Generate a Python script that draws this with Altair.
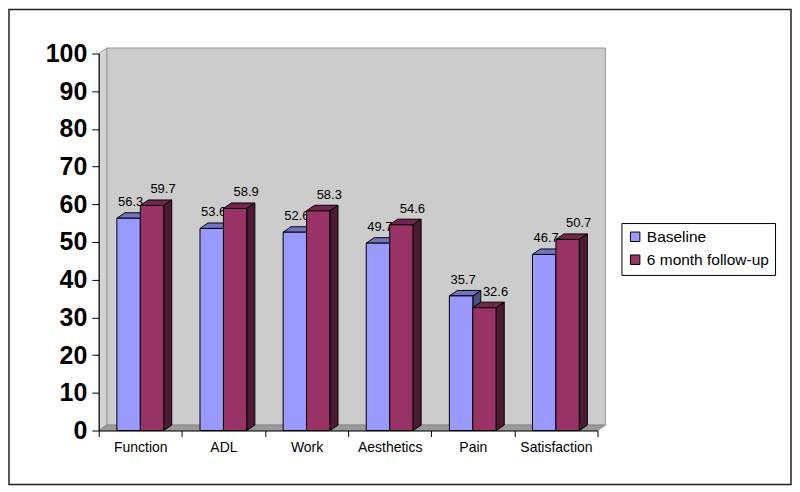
import altair as alt
import pandas as pd

categories = ["Function", "ADL", "Work", "Aesthetics", "Pain", "Satisfaction"]
series_names = ["Baseline", "6 month follow-up"]
baseline = [56.3, 53.6, 52.6, 49.7, 35.7, 46.7]
followup = [59.7, 58.9, 58.3, 54.6, 32.6, 50.7]
y_ticks = [0, 10, 20, 30, 40, 50, 60, 70, 80, 90, 100]

front_colors = ["#9999FF", "#993366"]
top_colors = ["#7373BF", "#73264D"]
side_colors = ["#4D4D80", "#4D1A33"]

W, H = 500, 378
BAR_W = 0.282   # bar width in category units
DX = 0.096      # 3-D depth, x (category units)
DY = 1.45       # 3-D depth, y (value units)
N = len(categories)

xs = alt.Scale(domain=[0, N], nice=False, zero=False)
ys = alt.Scale(domain=[0, 100], nice=False, zero=True)

x_axis = alt.Axis(values=list(range(N + 1)), grid=False, domainColor="black", tickColor="black",
                  tickSize=6, labelFontSize=14, labelColor="black", labelFont="Liberation Sans",
                  labelOffset=W / N / 2, labelPadding=4, labelFlush=False, labelOverlap=False,
                  labelBound=False, zindex=1, title=None,
                  labelExpr="[" + ",".join(f"'{c}'" for c in categories) + ",''][datum.value]")
y_axis = alt.Axis(values=y_ticks, grid=False, domainColor="black", tickColor="black", tickSize=7,
                  labelFontSize=25, labelFontWeight="bold", labelColor="black",
                  labelFont="Liberation Sans", labelPadding=5, labelOverlap=False,
                  labelFlush=False, labelBound=False, zindex=1, title=None)


def X(f):
    return alt.X(f, scale=xs, axis=x_axis, title=None)


def Y(f):
    return alt.Y(f, scale=ys, axis=y_axis, title=None)


# ---- build tables ----
fronts, tops, sides, labels = [], [], [], []
for s, vals in enumerate([baseline, followup]):
    for i, v in enumerate(vals):
        x0 = i + 0.5 - BAR_W + s * BAR_W
        x1 = x0 + BAR_W
        fid = f"{s}-{i}"
        fronts.append(dict(series=series_names[s], s=s, x0=x0, x1=x1, v=v))
        for px, a, b in [(x0, v, v), (x0 + DX, v, v + DY), (x1, v, v + DY), (x1 + DX, v + DY, v + DY)]:
            tops.append(dict(fid=fid, s=s, x=px, y=a, y2=b, fill=top_colors[s]))
        for px, a, b in [(x1, 0, v), (x1 + DX, DY, v + DY)]:
            sides.append(dict(fid=fid, s=s, x=px, y=a, y2=b, fill=side_colors[s]))
        labels.append(dict(s=s, x=(x0 + x1) / 2, v=v, label=f"{v:.1f}"))

fronts = pd.DataFrame(fronts)
tops = pd.DataFrame(tops)
sides = pd.DataFrame(sides)
labels = pd.DataFrame(labels)

# ---- walls ----
wall = pd.DataFrame([dict(x=DX, x2=N + DX, y=DY, y2=100 + DY)])
left_wall = pd.DataFrame([dict(x=0, y=0, y2=100), dict(x=DX, y=DY, y2=100 + DY)])
floor = pd.DataFrame([dict(x=0, y=0, y2=0), dict(x=DX, y=0, y2=DY),
                      dict(x=N, y=0, y2=DY), dict(x=N + DX, y=DY, y2=DY)])

frame = alt.Chart(pd.DataFrame({"k": [1]})).mark_rect(
    fill="white", stroke="#222222", strokeWidth=1.5
).encode(x=alt.value(-90), x2=alt.value(W + 194), y=alt.value(-44), y2=alt.value(H + 54))

wall_l = alt.Chart(wall).mark_rect(fill="#CCCCCC", stroke="#9A9A9A", strokeWidth=1).encode(
    x=X("x:Q"), x2="x2:Q", y=Y("y:Q"), y2="y2:Q")
lwall_l = alt.Chart(left_wall).mark_area(orient="vertical", fill="#D4D4D4", stroke="#9A9A9A", strokeWidth=1).encode(
    x=X("x:Q"), y=Y("y:Q"), y2="y2:Q")
floor_l = alt.Chart(floor).mark_area(orient="vertical", fill="#999999", stroke="#8A8A8A", strokeWidth=1).encode(
    x=X("x:Q"), y=Y("y:Q"), y2="y2:Q")


def faces(s):
    f = fronts[fronts.s == s]
    t = tops[tops.s == s]
    sd = sides[sides.s == s]
    side_l = alt.Chart(sd).mark_area(orient="vertical", stroke="black", strokeWidth=1).encode(
        x=X("x:Q"), y=Y("y:Q"), y2="y2:Q",
        detail="fid:N", fill=alt.Fill("fill:N", scale=None))
    top_l = alt.Chart(t).mark_area(orient="vertical", stroke="black", strokeWidth=1).encode(
        x=X("x:Q"), y=Y("y:Q"), y2="y2:Q",
        detail="fid:N", fill=alt.Fill("fill:N", scale=None))
    front_l = alt.Chart(f).mark_rect(stroke="black", strokeWidth=1).encode(
        x=X("x0:Q"), x2="x1:Q", y=Y("v:Q"), y2=alt.datum(0),
        color=alt.Color("series:N", scale=alt.Scale(domain=series_names, range=front_colors),
                        legend=alt.Legend(title=None, orient="none", legendX=524, legendY=170,
                                          symbolType="square", symbolSize=90, symbolStrokeColor="black",
                                          symbolStrokeWidth=1, symbolOpacity=1, labelFontSize=15.5,
                                          labelFont="Liberation Sans", labelColor="black",
                                          strokeColor="black", fillColor="white", padding=6,
                                          rowPadding=6, symbolOffset=0, labelOffset=4)))
    return side_l, top_l, front_l


def label_layer(s, dx, dy):
    return alt.Chart(labels[labels.s == s]).mark_text(
        fontSize=13, font="Liberation Sans", color="black", dx=dx, dy=dy, baseline="alphabetic"
    ).encode(x=X("x:Q"), y=Y("v:Q"), text="label:N")


b_side, b_top, b_front = faces(0)
f_side, f_top, f_front = faces(1)

chart = alt.layer(
    frame, wall_l, lwall_l, floor_l,
    b_side, b_top, b_front, label_layer(0, 2, -12),
    f_front, f_top, f_side, label_layer(1, 11, -12),
).properties(
    width=W, height=H,
    autosize=alt.AutoSizeParams(type="none"),
    padding={"left": 91, "top": 45, "right": 195, "bottom": 55},
).configure_view(stroke=None)

chart.save("out.html", embed_options={"renderer": "svg", "actions": False})
